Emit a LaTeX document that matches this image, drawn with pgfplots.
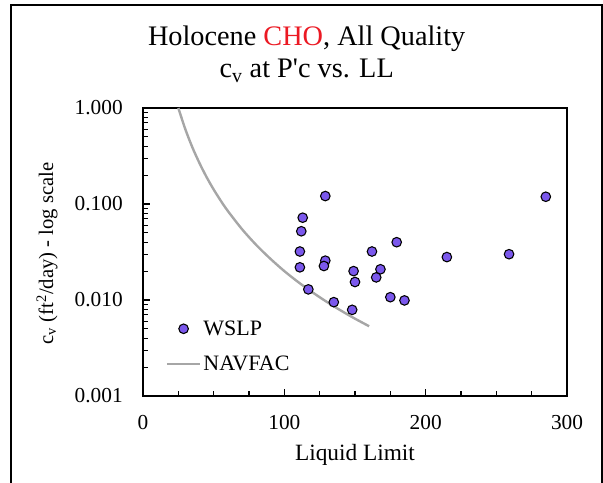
\documentclass[border=0pt]{standalone}
\usepackage{fontspec}
\setmainfont{Liberation Serif}
\usepackage{pgfplots}
\pgfplotsset{compat=1.18}
\definecolor{markfill}{RGB}{123,88,236}
\definecolor{navgray}{RGB}{166,166,166}
\definecolor{titlered}{RGB}{235,25,35}
\pgfplotsset{
  navleg/.style={legend image code/.code={\draw[##1] (0pt,0pt) -- (25pt,0pt);}},
  markleg/.style={legend image code/.code={\path (0pt,0pt) (25pt,0pt); \draw[mark repeat=2,mark phase=2,##1] plot coordinates {(0pt,0pt) (12.5pt,0pt) (25pt,0pt)};}},
}
\begin{document}
\begin{tikzpicture}
\useasboundingbox (0,0) rectangle (452.25pt,361.5pt);
\draw[line width=1.2pt] (8.25pt,-3pt) -- (8.25pt,357.75pt) -- (451.5pt,357.75pt) -- (451.5pt,-3pt);
\node[anchor=base, inner sep=0pt, font=\fontsize{21.2}{25}\selectfont] at (230pt,327pt) {Holocene \textcolor{titlered}{CHO}, All Quality};
\node[anchor=base, inner sep=0pt, font=\fontsize{21.2}{25}\selectfont] at (230pt,303pt) {c\textsubscript{v} at P{\addfontfeatures{Ligatures=TeXOff}'}c vs. LL};
\node[rotate=90, inner sep=0pt, font=\fontsize{15.5}{19}\selectfont] at (35.25pt,171.5pt) {c\textsubscript{v} (ft\textsuperscript{2}/day) - log scale};
\begin{axis}[
  at={(107.25pt,64.5pt)}, anchor=south west,
  scale only axis, width=318pt, height=216pt,
  xmin=0, xmax=300, ymin=0.001, ymax=1, ymode=log,
  xtick={0,100,200,300},
  minor xtick={25,50,75,125,150,175,225,250,275},
  ytick={0.001,0.01,0.1,1},
  yticklabels={0.001,0.010,0.100,1.000},
  minor ytick={0.002,0.003,0.004,0.005,0.006,0.007,0.008,0.009,0.02,0.03,0.04,0.05,0.06,0.07,0.08,0.09,0.2,0.3,0.4,0.5,0.6,0.7,0.8,0.9},
  tick align=inside, xtick pos=bottom, ytick pos=left,
  major tick length=5pt, minor tick length=3.5pt,
  tick style={black, line width=0.8pt},
  axis line style={line width=1.1pt},
  /pgf/number format/assume math mode=true,
  xticklabel style={font=\fontsize{16}{19}\selectfont, anchor=base, yshift=-25pt, inner sep=0pt},
  yticklabel style={font=\fontsize{16}{19}\selectfont, anchor=east, xshift=-15pt, inner sep=0pt},
  xlabel={Liquid Limit},
  xlabel style={at={(axis description cs:0.5,0)}, anchor=base, yshift=-48pt, inner sep=0pt, font=\fontsize{17.5}{21}\selectfont},
  legend style={at={(0.053,0.27)}, anchor=north west, draw=none, fill=none, font=\fontsize{16.5}{20}\selectfont, row sep=11pt, inner sep=0pt, nodes={inner sep=1.5pt}},
  legend cell align=left,
  reverse legend,
]
\addplot[navgray, line width=1.8pt, smooth, navleg]
  coordinates {(25,1.0) (30,0.598) (35,0.387) (40,0.266) (45,0.1905) (50,0.1416) (55,0.1083) (60,0.0847) (70,0.0548) (80,0.0376) (90,0.0270) (100,0.0200) (110,0.0153) (120,0.0120) (130,0.00957) (140,0.00777) (150,0.00639) (160,0.00533)};
\addlegendentry{NAVFAC}
\addplot[only marks, mark=*, mark size=3.6pt, mark options={fill=markfill, draw=black, line width=0.8pt}, markleg]
  coordinates {(129,0.121) (285,0.119) (113,0.072) (112,0.052) (179.5,0.040) (111,0.032) (162,0.032) (215,0.028) (259,0.030) (129,0.0257) (128,0.0226) (111,0.0219) (149,0.020) (168,0.0209) (150,0.0154) (165,0.0172) (117,0.0129) (175,0.0107) (185,0.0099) (135,0.0095) (148,0.0079)};
\addlegendentry{WSLP}
\end{axis}
\end{tikzpicture}
\end{document}
